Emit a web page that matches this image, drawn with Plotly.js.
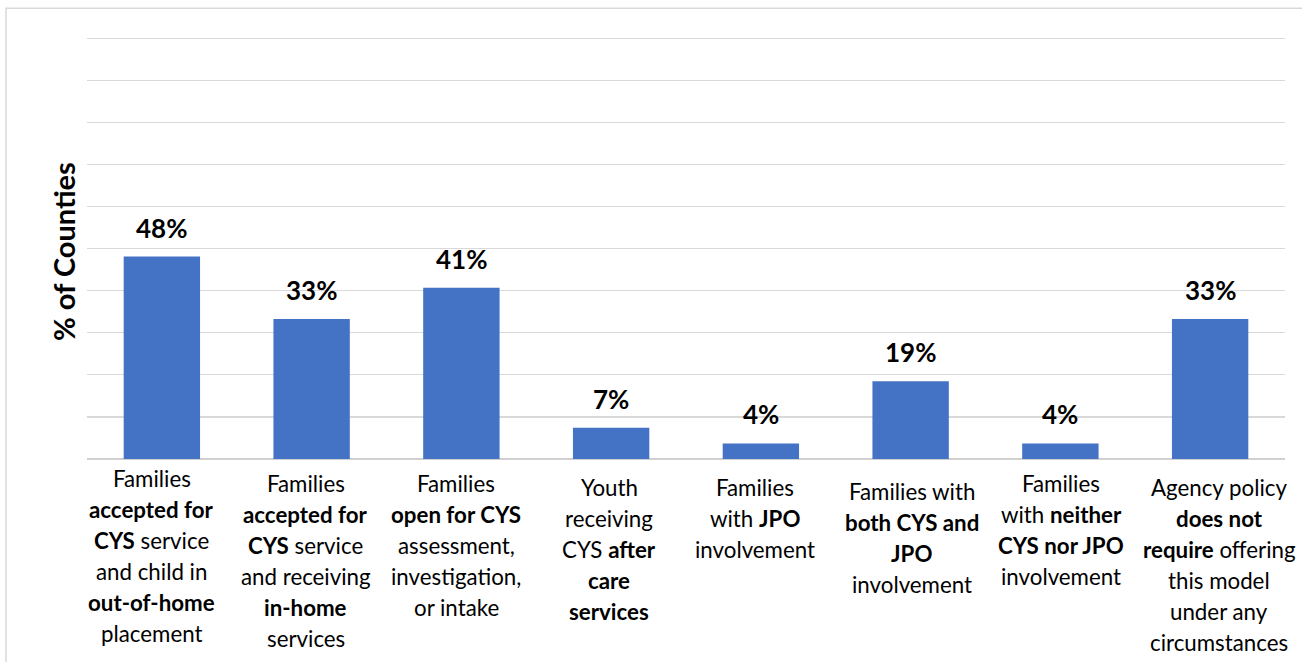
<!DOCTYPE html>
<html><head><meta charset="utf-8">
<script src="https://cdn.plot.ly/plotly-3.0.1.min.js"></script>
<style>html,body{margin:0;padding:0;background:#fff}#chart{width:1302px;height:662px}</style>
</head><body><div id="chart"></div>
<script>
// ---- data ----
const categories = ["c1","c2","c3","c4","c5","c6","c7","c8"];
const pctCounties = [48.1, 33.3, 40.7, 7.4, 3.7, 18.5, 3.7, 33.3];
const categoryLabels = [
  ["Families", "<b>accepted for</b>", "<b>CYS</b> service", "and child in", "<b>out-of-home</b>", "placement"],
  ["Families", "<b>accepted for</b>", "<b>CYS</b> service", "and receiving", "<b>in-home</b>", "services"],
  ["Families", "<b>open for CYS</b>", "assessment,", "investigation,", "or intake"],
  ["Youth", "receiving", "CYS <b>after</b>", "<b>care</b>", "<b>services</b>"],
  ["Families", "with <b>JPO</b>", "involvement"],
  ["Families with", "<b>both CYS and</b>", "<b>JPO</b>", "involvement"],
  ["Families", "with <b>neither</b>", "<b>CYS nor JPO</b>", "involvement"],
  ["Agency policy", "<b>does not</b>", "<b>require</b> offering", "this model", "under any", "circumstances"]
];
const yAxisTitle = "% of Counties";

// ---- layout settings (pixels) ----
const plotBottom = 459, pxPerUnit = 4.21, yMax = 101, lineStep = 31;
const plotTop = plotBottom - yMax * pxPerUnit;
const plotH = plotBottom - plotTop;
const firstLineCenter = [478, 483, 483, 487, 487, 491, 483, 487];
const labelXShift = [-10, -6, -5, -2, -5.5, 1, 1, 9];
const FONT = "Lato, 'Open Sans', sans-serif";

const annotations = [];
pctCounties.forEach((v, i) => {
  annotations.push({
    x: categories[i], y: v, xref: "x", yref: "y",
    text: "<b>" + Math.round(v) + "%</b>",
    showarrow: false, yanchor: "middle", yshift: 29,
    font: {family: FONT, size: 26, color: "#000"}
  });
});
categoryLabels.forEach((lines, i) => {
  lines.forEach((ln, j) => {
    const py = firstLineCenter[i] + j * lineStep;
    annotations.push({
      x: categories[i], xref: "x", xshift: labelXShift[i],
      y: 0, yref: "paper", yshift: -(py - plotBottom),
      text: ln, showarrow: false, yanchor: "middle", xanchor: "center",
      font: {family: FONT, size: 22.3, color: "#000"}
    });
  });
});
annotations.push({
  xref: "paper", yref: "paper", x: 0, xshift: -(87 - 63), xanchor: "center",
  y: (plotBottom - 252) / plotH, yanchor: "middle",
  text: "<b>" + yAxisTitle + "</b>", textangle: -90, showarrow: false,
  font: {family: FONT, size: 29, color: "#000"}
});

const shapes = [{
  type: "rect", xref: "paper", yref: "paper",
  x0: (6 - 87) / 1198, x1: (1320 - 87) / 1198,
  y0: (plotBottom - 700) / plotH, y1: (plotBottom - 8) / plotH,
  line: {color: "#d9d9d9", width: 1.5}, fillcolor: "rgba(0,0,0,0)", layer: "below"
}];

const trace = {
  type: "bar", x: categories, y: pctCounties,
  marker: {color: "#4472C4"}, hoverinfo: "none"
};

const layout = {
  width: 1302, height: 662,
  margin: {l: 87, r: 17, t: plotTop, b: 662 - plotBottom, pad: 0},
  paper_bgcolor: "#fff", plot_bgcolor: "#fff",
  bargap: 0.49, showlegend: false,
  xaxis: {type: "category", range: [-0.5, categories.length - 0.5], autorange: false,
          showticklabels: false, ticks: "", showgrid: false, zeroline: false, showline: false, fixedrange: true},
  yaxis: {
    range: [0, yMax], autorange: false, tick0: 0, dtick: 10, showticklabels: false, ticks: "",
    showgrid: true, gridcolor: "#d9d9d9", gridwidth: 1.3,
    zeroline: true, zerolinecolor: "#d0d0d0", zerolinewidth: 1.5,
    automargin: false, fixedrange: true
  },
  annotations: annotations, shapes: shapes,
  font: {family: FONT}
};

Plotly.newPlot("chart", [trace], layout, {displayModeBar: false, staticPlot: true});
</script>
</body></html>
